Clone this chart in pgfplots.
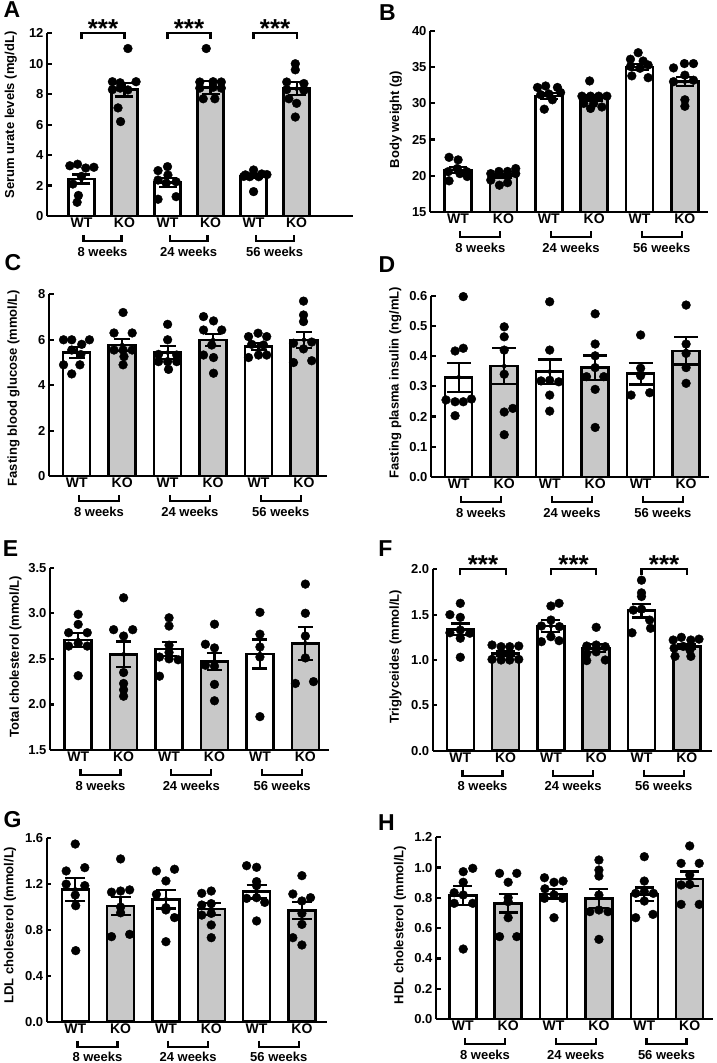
\documentclass[border=0pt]{standalone}
\usepackage{pgfplots}
\pgfplotsset{compat=1.18}
\usepackage{fontspec}
\setmainfont{Liberation Sans}
\definecolor{kogray}{RGB}{200,200,200}
\newcommand\fs[1]{\fontsize{#1}{#1}\selectfont\bfseries}
\newcommand\weeks[1]{%
 \foreach \g/\lab in {0/8 weeks,2/24 weeks,4/56 weeks}{%
  \pgfmathsetmacro\xa{\g+0.05}\pgfmathsetmacro\xb{\g+0.93}\pgfmathsetmacro\xm{\g+0.49}%
  \draw[line width=2.2pt] ([yshift=-19pt]axis cs:\xa,#1) -- ([yshift=-25pt]axis cs:\xa,#1) -- ([yshift=-25pt]axis cs:\xb,#1) -- ([yshift=-19pt]axis cs:\xb,#1);
  \node[font=\fs{13}] at ([yshift=-35.5pt]axis cs:\xm,#1) {\lab};
 }}
\newcommand\sig[1]{%
 \foreach \g in {0,2,4}{%
  \pgfmathsetmacro\xb{\g+1}\pgfmathsetmacro\xm{\g+0.5}%
  \draw[line width=2.2pt] ([yshift=-6pt]axis cs:\g,#1) -- (axis cs:\g,#1) -- (axis cs:\xb,#1) -- ([yshift=-6pt]axis cs:\xb,#1);
  \node[font=\fs{26}, anchor=base, inner sep=0pt] at ([yshift=-4pt]axis cs:\xm,#1) {***};
 }}
\pgfplotsset{
 panel/.style={
  scale only axis, anchor=south west,
  axis x line=bottom, axis y line=left,
  axis line style={-, line width=2.3pt},
  tick align=inside, major tick length=4.5pt,
  ytick style={line width=2.2pt, black},
  xtick style={draw=none},
  xtick={0,...,5}, xticklabels={WT,KO,WT,KO,WT,KO},
  yticklabel style={font=\fs{13}},
  xticklabel style={font=\fs{14}, inner sep=1.5pt},
  /pgf/number format/assume math mode=true,
 },
 dec/.style={yticklabel style={/pgf/number format/.cd, fixed, fixed zerofill, precision=1}},
 ylab/.style 2 args={every axis y label/.style={at={(axis description cs:#1,#2)}, rotate=90, anchor=center, font=\fs{13}}},
 wt/.style={ybar, bar shift=0pt, bar width=#1, fill=white, draw=black, line width=2.5pt},
 ko/.style={ybar, bar shift=0pt, bar width=#1, fill=kogray, draw=black, line width=2.5pt},
 dots/.style={only marks, mark=*, mark size=4.4pt, black},
 err/.style={only marks, mark=none, black, forget plot, error bars/.cd, y dir=both, y explicit,
   error bar style={black, solid, line width=2.2pt},
   error mark=-,
   error mark options={rotate=90, black, solid, line width=2.2pt, mark size=#1}},
}
\begin{document}
\begin{tikzpicture}
\useasboundingbox (0,0) rectangle (716pt,1063pt);
% ---------- A
\begin{axis}[panel, at={(47pt,847pt)}, width=306pt, height=182.7pt,
  xmin=-0.80, xmax=6.31, ymin=0, ymax=12, ytick={0,2,...,12},
  ylab={-0.118}{0.553}, ylabel={Serum urate levels (mg/dL)},
  after end axis/.code={\weeks{0}\sig{12}}]
\addplot[wt=26pt] coordinates {(0,2.43) (2,2.19) (4,2.62)};
\addplot[ko=26pt] coordinates {(1,8.3) (3,8.45) (5,8.36)};
\addplot[dots] coordinates {
(-0.27,3.3) (-0.09,3.4) (0.1,3.15) (0.29,3.2) (-0.2,2.1) (0,2.6) (-0.07,1.35) (-0.1,0.9)
(1.08,11.0) (0.72,8.82) (0.9,8.75) (1.27,8.82) (0.72,8.3) (0.9,8.4) (1.08,8.28) (0.85,7.1) (0.91,6.2)
(1.78,2.98) (2,3.24) (1.78,2.36) (2.01,2.69) (1.97,2.15) (2.2,2.25) (1.78,1.1) (2.2,1.27)
(2.9,11.0) (2.75,8.8) (3.06,8.82) (3.25,8.8) (2.75,8.4) (3.06,8.45) (3.25,8.4) (2.83,7.7) (3.1,7.7)
(3.81,2.7) (4,3.02) (4.19,2.76) (4.31,2.72) (3.91,2.58) (4.12,2.58) (3.77,2.6) (4,1.6)
(4.97,10.0) (4.97,9.6) (4.77,8.8) (5.17,8.7) (4.77,8.3) (5.17,8.25) (4.82,7.7) (5,7.4) (4.97,6.5)};
\addplot[err=9pt] coordinates {(0,2.43) +- (0,0.30) (1,8.3) +- (0,0.45) (2,2.19) +- (0,0.3)
 (3,8.45) +- (0,0.42) (4,2.62) +- (0,0.12) (5,8.36) +- (0,0.42)};
\end{axis}
% ---------- B
\begin{axis}[panel, at={(430pt,851pt)}, width=278pt, height=181pt,
  xmin=-0.62, xmax=5.51, ymin=15, ymax=40, ytick={15,20,...,40},
  ylab={-0.123}{0.511}, ylabel={Body weight (g)},
  after end axis/.code={\weeks{15}}]
\addplot[wt=27pt] coordinates {(0,20.8) (2,31.0) (4,35.0)};
\addplot[ko=27pt] coordinates {(1,20.0) (3,30.8) (5,33.0)};
\addplot[dots] coordinates {
(-0.2,22.55) (0,22.2) (-0.22,20.57) (-0.02,21.0) (0.19,20.57) (-0.2,19.3) (0.2,19.9) (0.04,20.3)
(0.72,20.3) (0.9,20.6) (1.09,20.6) (1.27,21.0) (0.72,19.4) (0.91,18.7) (1.09,19.05) (1.27,20.3)
(1.75,32.2) (1.93,32.4) (2.19,32.2) (1.82,31.2) (2,31.3) (2.26,31.5) (1.9,29.2) (2.08,30.5)
(2.9,33.1) (2.73,31.0) (2.92,31.0) (3.1,31.0) (3.28,31.0) (2.77,30.0) (2.99,30.0) (2.92,29.3) (3.17,29.5)
(3.97,37.0) (3.8,36.1) (4.08,35.85) (3.8,35.1) (4.19,35.3) (4.01,34.85) (3.83,33.8) (4.19,33.55)
(4.75,34.9) (4.99,35.5) (5.19,35.5) (5,33.9) (4.75,33.0) (5.19,33.2) (5,30.5) (5,29.6)};
\addplot[err=9pt] coordinates {(0,20.8) +- (0,0.4) (1,20.0) +- (0,0.3) (2,31.0) +- (0,0.4)
 (3,30.8) +- (0,0.4) (4,35.0) +- (0,0.4) (5,33.0) +- (0,0.65)};
\end{axis}
% ---------- C
\begin{axis}[panel, at={(49pt,586.7pt)}, width=277.7pt, height=182pt,
  xmin=-0.61, xmax=5.50, ymin=0, ymax=8, ytick={0,2,...,8},
  ylab={-0.128}{0.485}, ylabel={Fasting blood glucose (mmol/L)},
  after end axis/.code={\weeks{0}}]
\addplot[wt=27pt] coordinates {(0,5.45) (2,5.44) (4,5.7)};
\addplot[ko=27pt] coordinates {(1,5.77) (3,5.99) (5,6.0)};
\addplot[dots] coordinates {
(-0.29,6.0) (-0.11,6.0) (0.11,5.8) (0.28,6.0) (-0.11,5.55) (0.09,5.35) (-0.29,4.9) (0.07,4.9) (-0.11,4.5)
(1.02,7.2) (0.82,6.3) (1.22,6.3) (0.82,5.55) (1.02,5.55) (1.22,5.55) (1.04,5.26) (1.02,4.9)
(2,6.68) (2,6.0) (1.8,5.36) (2.2,5.33) (1.8,5.04) (2,5.04) (2.2,5.04) (2.02,4.7)
(2.79,7.02) (3.01,6.83) (2.79,6.43) (3.19,6.43) (2.97,5.77) (2.79,5.33) (3.01,5.22) (3.01,4.53)
(3.99,6.29) (3.78,6.14) (4.18,6.14) (3.85,5.8) (4.11,5.77) (3.78,5.22) (4,5.33) (4.18,5.33)
(4.99,7.7) (4.99,7.09) (4.99,6.8) (4.77,5.85) (5.17,5.9) (4.99,5.6) (4.77,5.0) (5.17,5.08)};
\addplot[err=8pt] coordinates {(0,5.45) +- (0,0.24) (1,5.77) +- (0,0.28) (2,5.44) +- (0,0.27)
 (3,5.99) +- (0,0.28) (4,5.7) +- (0,0.15) (5,6.0) +- (0,0.35)};
\end{axis}
% ---------- D
\begin{axis}[panel, dec, at={(431pt,586pt)}, width=278.3pt, height=181.3pt,
  xmin=-0.61, xmax=5.51, ymin=0, ymax=0.6, ytick={0,0.1,...,0.6},
  ylab={-0.128}{0.52}, ylabel={Fasting plasma insulin (ng/mL)},
  after end axis/.code={\weeks{0}}]
\addplot[wt=27pt] coordinates {(0,0.33) (2,0.349) (4,0.342)};
\addplot[ko=27pt] coordinates {(1,0.367) (3,0.362) (5,0.417)};
\addplot[dots] coordinates {
(0.1,0.597) (-0.08,0.417) (0.1,0.426) (-0.28,0.255) (-0.08,0.249) (0.1,0.249) (0.28,0.258) (-0.08,0.203)
(1,0.497) (1,0.464) (1,0.42) (1,0.34) (1,0.215) (1.19,0.227) (1,0.14)
(2,0.58) (2,0.42) (1.81,0.318) (2,0.32) (2.2,0.315) (2,0.271) (2,0.218)
(3,0.54) (3,0.44) (3,0.401) (3,0.362) (2.81,0.332) (3.19,0.332) (3,0.29) (3,0.164)
(4,0.47) (4,0.36) (4,0.335) (3.79,0.271) (4.2,0.279)
(5,0.569) (5,0.44) (5,0.409) (5,0.362) (5,0.31)};
\addplot[err=12pt] coordinates {(0,0.33) +- (0,0.048) (1,0.367) +- (0,0.06) (2,0.349) +- (0,0.04)
 (3,0.362) +- (0,0.04) (4,0.342) +- (0,0.036) (5,0.417) +- (0,0.045)};
\end{axis}
% ---------- E
\begin{axis}[panel, dec, at={(50pt,313pt)}, width=279pt, height=182.3pt,
  xmin=-0.62, xmax=5.52, ymin=1.5, ymax=3.5, ytick={1.5,2.0,...,3.5},
  ylab={-0.124}{0.512}, ylabel={Total cholesterol (mmol/L)},
  after end axis/.code={\weeks{1.5}}]
\addplot[wt=27pt] coordinates {(0,2.707) (2,2.608) (4,2.553)};
\addplot[ko=27pt] coordinates {(1,2.55) (3,2.47) (5,2.67)};
\addplot[dots] coordinates {
(0,2.988) (0,2.878) (-0.21,2.787) (0.2,2.787) (-0.21,2.64) (0,2.67) (0.2,2.64) (0,2.315)
(1,3.17) (0.78,2.82) (1.2,2.82) (1,2.75) (1,2.35) (1,2.23) (1,2.16) (1,2.09)
(2,2.95) (2,2.86) (2,2.65) (2,2.57) (1.79,2.52) (2.2,2.49) (1.79,2.31) (2,2.5)
(3,2.88) (2.8,2.66) (3,2.62) (2.8,2.43) (3,2.42) (3,2.22) (3,2.04)
(4,3.01) (4,2.77) (4,2.63) (4,2.52) (4,1.866)
(5,3.32) (5,3.0) (5,2.75) (5,2.51) (4.78,2.23) (5.18,2.25)};
\addplot[err=7.5pt] coordinates {(0,2.707) +- (0,0.075) (1,2.55) +- (0,0.14) (2,2.608) +- (0,0.08)
 (3,2.47) +- (0,0.095) (4,2.553) +- (0,0.16) (5,2.67) +- (0,0.18)};
\end{axis}
% ---------- F
\begin{axis}[panel, dec, at={(432.7pt,312.3pt)}, width=279pt, height=181.4pt,
  xmin=-0.61, xmax=5.55, ymin=0, ymax=2, ytick={0,0.5,...,2.0},
  ylab={-0.133}{0.518}, ylabel={Triglyceides (mmol/L)},
  after end axis/.code={\weeks{0}\sig{2}}]
\addplot[wt=27pt] coordinates {(0,1.338) (2,1.375) (4,1.544)};
\addplot[ko=27pt] coordinates {(1,1.074) (3,1.129) (5,1.147)};
\addplot[dots] coordinates {
(0,1.625) (-0.23,1.5) (0,1.47) (-0.23,1.3) (0,1.33) (0.21,1.295) (0,1.24) (0,1.03)
(0.7,1.165) (0.9,1.147) (1.09,1.147) (1.29,1.154) (0.7,1.007) (0.9,1.0) (1.09,1.0) (1.29,1.007)
(2,1.595) (2.18,1.625) (1.79,1.375) (2,1.44) (2.19,1.368) (1.79,1.202) (2,1.257) (2.18,1.213)
(3,1.36) (2.79,1.154) (3,1.165) (3.2,1.147) (2.79,1.07) (3,1.09) (2.79,0.993) (3.2,1.0)
(4,1.88) (4,1.74) (4,1.70) (4,1.56) (3.82,1.55) (4.18,1.44) (3.79,1.30) (4.2,1.35)
(4.7,1.22) (4.88,1.25) (5.09,1.22) (5.27,1.23) (4.72,1.13) (4.92,1.15) (5.07,1.11) (4.74,1.04) (5.09,1.04)};
\addplot[err=9.5pt] coordinates {(0,1.338) +- (0,0.065) (1,1.074) +- (0,0.028) (2,1.375) +- (0,0.065)
 (3,1.129) +- (0,0.045) (4,1.544) +- (0,0.075) (5,1.147) +- (0,0.03)};
\end{axis}
% ---------- G
\begin{axis}[panel, dec, at={(46.7pt,41.3pt)}, width=280.6pt, height=183.4pt,
  xmin=-0.63, xmax=5.56, ymin=0, ymax=1.6, ytick={0,0.4,...,1.6},
  ylab={-0.131}{0.527}, ylabel={LDL cholesterol (mmol/L)},
  after end axis/.code={\weeks{0}}]
\addplot[wt=27pt] coordinates {(0,1.155) (2,1.068) (4,1.135)};
\addplot[ko=27pt] coordinates {(1,1.01) (3,0.983) (5,0.969)};
\addplot[dots] coordinates {
(0,1.55) (-0.2,1.315) (0.21,1.344) (-0.2,1.2) (0.21,1.187) (0,1.105) (0.01,1.012) (0.01,0.62)
(1,1.42) (0.8,1.13) (1,1.14) (1.2,1.15) (1,1.0) (1,0.95) (0.8,0.742) (1.2,0.762)
(1.79,1.315) (2.19,1.33) (2,1.228) (1.79,1.111) (2,0.995) (2,0.975) (2.19,0.908) (2,0.698)
(2.79,1.12) (3,1.14) (2.79,1.018) (3,1.03) (3,0.945) (2.79,0.93) (3,0.844) (3,0.733)
(3.78,1.361) (4,1.347) (4,1.222) (4,1.187) (3.78,1.076) (4,1.082) (4.18,1.041) (4,0.879)
(5,1.274) (4.8,1.114) (5.19,1.082) (5,1.053) (5,0.945) (5,0.849) (4.8,0.733) (5,0.669)};
\addplot[err=10pt] coordinates {(0,1.155) +- (0,0.1) (1,1.01) +- (0,0.08) (2,1.068) +- (0,0.08)
 (3,0.983) +- (0,0.05) (4,1.135) +- (0,0.06) (5,0.969) +- (0,0.075)};
\end{axis}
% ---------- H
\begin{axis}[panel, dec, at={(436pt,44pt)}, width=277.3pt, height=181.7pt,
  xmin=-0.59, xmax=5.52, ymin=0, ymax=1.2, ytick={0,0.2,...,1.2},
  ylab={-0.13}{0.517}, ylabel={HDL cholesterol (mmol/L)},
  after end axis/.code={\weeks{0}}]
\addplot[wt=27pt] coordinates {(0,0.815) (2,0.826) (4,0.823)};
\addplot[ko=27pt] coordinates {(1,0.764) (3,0.797) (5,0.925)};
\addplot[dots] coordinates {
(0.22,0.995) (0.01,0.973) (0.01,0.903) (-0.19,0.834) (0.01,0.819) (-0.19,0.764) (0.22,0.764) (0.01,0.462)
(0.81,0.962) (1.19,0.962) (1,0.903) (1,0.801) (1,0.775) (1,0.669) (0.81,0.544) (1.19,0.544)
(1.8,0.933) (2.01,0.903) (2.21,0.911) (1.81,0.86) (2.01,0.82) (1.8,0.797) (2.2,0.797) (2.01,0.669)
(3,1.05) (3,0.984) (3,0.944) (3,0.819) (2.8,0.709) (3,0.72) (3.2,0.709) (3,0.526)
(4,1.072) (4,0.911) (3.81,0.83) (4,0.841) (4.2,0.83) (4,0.779) (3.81,0.669) (4.19,0.691)
(5,1.143) (4.81,1.028) (5.21,1.028) (5,0.951) (4.81,0.885) (5,0.889) (4.81,0.757) (5.21,0.757)};
\addplot[err=9.5pt] coordinates {(0,0.815) +- (0,0.062) (1,0.764) +- (0,0.06) (2,0.826) +- (0,0.03)
 (3,0.797) +- (0,0.062) (4,0.823) +- (0,0.046) (5,0.925) +- (0,0.049)};
\end{axis}
% panel letters
\node[font=\fs{23}] at (12pt,1053pt) {A};
\node[font=\fs{23}] at (387.5pt,1050.5pt) {B};
\node[font=\fs{23}] at (13pt,800pt) {C};
\node[font=\fs{23}] at (387pt,798pt) {D};
\node[font=\fs{23}] at (10.5pt,514pt) {E};
\node[font=\fs{23}] at (385.5pt,514pt) {F};
\node[font=\fs{23}] at (12.5pt,243pt) {G};
\node[font=\fs{23}] at (386.5pt,240.5pt) {H};
\end{tikzpicture}
\end{document}
